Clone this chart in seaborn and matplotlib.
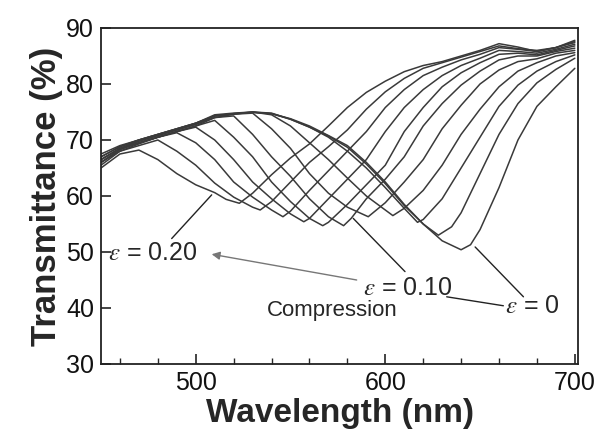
import matplotlib
matplotlib.use("Agg")
import matplotlib.pyplot as plt
from matplotlib.ticker import MultipleLocator, FixedLocator
import seaborn as sns
import pandas as pd

# ---- data (wavelength nm, transmittance %) ----
strains = [0.00, 0.02, 0.04, 0.06, 0.08, 0.10, 0.12, 0.14, 0.16, 0.18, 0.20]

wl_00 = [450, 460, 470, 480, 490, 500, 510, 520, 530, 540, 550, 560, 570, 580, 590, 600, 610, 620, 630, 640, 645, 650, 660, 670, 680, 690, 700]
t_00 = [66, 68.3, 69.5, 70.5, 71.5, 72.5, 74, 74.6, 75, 74.7, 73.8, 72.5, 70.8, 69, 66, 62.5, 58.5, 55, 52, 50.4, 51.3, 54, 61.5, 70, 76, 79.5, 82.8]

wl_02 = [450, 460, 470, 480, 490, 500, 510, 520, 530, 540, 550, 560, 570, 580, 590, 600, 610, 620, 628, 635, 640, 650, 660, 670, 680, 690, 700]
t_02 = [66.5, 68.5, 69.8, 70.8, 71.8, 72.8, 74.3, 74.7, 74.9, 74.7, 73.7, 72.3, 70.7, 68.7, 65.7, 62.2, 58.3, 55, 53, 54.5, 57, 64, 71, 76.5, 80.2, 82.6, 84.6]

wl_04 = [450, 460, 470, 480, 490, 500, 510, 520, 530, 540, 550, 560, 570, 580, 590, 600, 610, 617, 620, 630, 640, 650, 660, 670, 680, 690, 700]
t_04 = [67, 68.8, 70, 71, 72, 73, 74.5, 74.8, 75, 74.8, 73.7, 72.3, 70.5, 68, 65, 61.5, 57.8, 55.3, 55.8, 59.5, 65, 70.5, 76, 79.8, 82.3, 84, 85.2]

wl_06 = [450, 460, 470, 480, 490, 500, 510, 520, 530, 540, 550, 560, 570, 580, 590, 604, 610, 620, 630, 640, 650, 660, 670, 680, 690, 700]
t_06 = [67.5, 69, 70, 71, 72, 73, 74.3, 74.7, 75, 74.5, 72.5, 69.5, 66.5, 63.2, 60, 56.5, 57.8, 61, 65.5, 71, 75.5, 79.5, 82.3, 83.8, 85, 85.6]

wl_08 = [450, 460, 470, 480, 490, 500, 510, 520, 530, 540, 550, 560, 570, 580, 591, 600, 610, 620, 630, 640, 650, 660, 670, 680, 690, 700]
t_08 = [67, 68.8, 70, 71, 72, 73, 74.3, 74.6, 74.8, 72, 68.5, 64, 60.5, 58, 56.3, 58.8, 62.5, 66.5, 72, 76.2, 80, 82.5, 84, 84.5, 85.5, 86]

wl_10 = [450, 460, 470, 480, 490, 500, 510, 520, 530, 540, 550, 560, 570, 578, 582, 590, 600, 610, 620, 630, 640, 650, 660, 670, 680, 690, 700]
t_10 = [66.5, 68.5, 69.8, 70.8, 71.8, 72.8, 74, 74.3, 71, 67, 63.5, 59.5, 56.3, 54.7, 56, 59.5, 63, 67, 72.5, 76.5, 79.8, 82.3, 84.3, 85, 85, 85.8, 86.4]

wl_12 = [450, 460, 470, 480, 490, 500, 510, 520, 530, 540, 550, 560, 567, 570, 580, 590, 600, 610, 620, 630, 640, 650, 660, 670, 680, 690, 700]
t_12 = [66, 68.3, 69.5, 70.5, 71.5, 72.5, 73.5, 70.5, 67, 62.5, 59, 56, 54.7, 55.3, 58.5, 62, 65.5, 71.5, 75.8, 79.5, 82, 83.8, 85.3, 85.5, 85.2, 86, 86.8]

wl_14 = [450, 460, 470, 480, 490, 500, 510, 520, 530, 540, 550, 557, 560, 570, 580, 590, 600, 610, 620, 630, 640, 650, 660, 670, 680, 690, 700]
t_14 = [66.5, 68.5, 69.5, 70.5, 71.5, 72.3, 70, 66.5, 62.5, 59.5, 56.8, 55.4, 56, 59.5, 63, 66.5, 71.5, 75.8, 79, 81.5, 83.3, 84.6, 86, 85.8, 85.5, 86.2, 87.1]

wl_16 = [450, 460, 470, 480, 490, 500, 510, 520, 530, 540, 546, 550, 560, 570, 580, 590, 600, 610, 620, 630, 640, 650, 660, 670, 680, 690, 700]
t_16 = [66, 68, 69.3, 70.5, 71.3, 69.5, 66.5, 62.5, 59.8, 57.5, 56.3, 57.3, 61, 64.5, 68, 71.5, 75.8, 79, 81.5, 83, 84.3, 85.3, 86.5, 86.2, 85.8, 86.5, 87.4]

wl_18 = [450, 460, 470, 480, 490, 500, 510, 520, 530, 534, 540, 550, 560, 570, 580, 590, 600, 610, 620, 630, 640, 650, 660, 670, 680, 690, 700]
t_18 = [65.5, 68, 69, 70, 68, 65.5, 62.3, 59.8, 58, 57.5, 59, 62.5, 66, 68.8, 71.8, 75.5, 78.6, 81, 82.8, 83.8, 84.8, 85.8, 86.8, 86.3, 86, 86.5, 87.6]

wl_20 = [450, 460, 470, 480, 490, 500, 510, 516, 523, 530, 540, 550, 560, 570, 580, 590, 600, 610, 620, 630, 640, 650, 660, 670, 680, 690, 700]
t_20 = [65, 67.5, 68.2, 66.5, 64, 62, 60.6, 59.4, 58.7, 60.5, 63.8, 66.8, 69.3, 72.5, 75.8, 78.5, 80.5, 82.2, 83.3, 84, 85, 86, 87.2, 86.6, 85.8, 86.5, 87.8]

wavelengths = [wl_00, wl_02, wl_04, wl_06, wl_08, wl_10, wl_12, wl_14, wl_16, wl_18, wl_20]
transmittances = [t_00, t_02, t_04, t_06, t_08, t_10, t_12, t_14, t_16, t_18, t_20]

x_ticks = [500, 600, 700]
y_ticks = [30, 40, 50, 60, 70, 80, 90]

rows = []
for eps, wl, tr in zip(strains, wavelengths, transmittances):
    for w, t in zip(wl, tr):
        rows.append({"strain": eps, "wavelength": w, "T": t})
df = pd.DataFrame(rows)

# ---- style ----
sns.set_theme(style="ticks")
plt.rcParams["font.family"] = ["Liberation Sans", "DejaVu Sans"]
plt.rcParams["mathtext.fontset"] = "stix"

fig = plt.figure(figsize=(5.99, 4.34), dpi=100)
ax = fig.add_axes([0.1686, 0.1613, 0.7964, 0.7742])

line_color = "#3a3a3a"
sns.lineplot(data=df, x="wavelength", y="T", hue="strain", units="strain",
             estimator=None, palette=[line_color] * len(strains),
             legend=False, linewidth=1.1, ax=ax, sort=False)

ax.set_xlim(450, 701.7)
ax.set_ylim(30, 90)
ax.xaxis.set_major_locator(FixedLocator(x_ticks))
ax.xaxis.set_minor_locator(MultipleLocator(20))
ax.yaxis.set_major_locator(FixedLocator(y_ticks))
ax.tick_params(axis="both", which="major", direction="in", length=7, width=1.1,
               labelsize=18, colors="#111111", pad=5)
ax.tick_params(axis="x", which="minor", direction="in", length=4, width=1.0)
for s in ax.spines.values():
    s.set_linewidth(1.3)
    s.set_color("#222222")

ax.set_xlabel("Wavelength (nm)", fontsize=24, fontweight="bold", labelpad=2)
ax.set_ylabel("Transmittance (%)", fontsize=25, fontweight="bold", labelpad=2)

# ---- annotations ----
ann_fs = 18
ax.text(453.7, 49.8, r"$\varepsilon$ = 0.20", fontsize=ann_fs, va="center", ha="left")
ax.plot([487.3, 508.4], [52.4, 60.2], color="#222222", lw=1.0)

ax.text(588.3, 43.6, r"$\varepsilon$ = 0.10", fontsize=ann_fs, va="center", ha="left")
ax.plot([610.4, 583.1], [46.5, 56.0], color="#222222", lw=1.0)

ax.text(572.2, 39.6, "Compression", fontsize=16, va="center", ha="center")

ax.text(663.2, 40.3, r"$\varepsilon$ = 0", fontsize=ann_fs, va="center", ha="left")
ax.plot([632.4, 662.3], [42.0, 40.4], color="#222222", lw=1.0)
ax.plot([672.9, 647.4], [42.0, 50.9], color="#222222", lw=1.0)

ax.annotate("", xy=(508.4, 49.6), xytext=(584.9, 45.0),
            arrowprops=dict(arrowstyle="-|>", color="#777777", lw=1.0,
                            mutation_scale=12, shrinkA=0, shrinkB=0))

fig.savefig("out.png", dpi=100)
